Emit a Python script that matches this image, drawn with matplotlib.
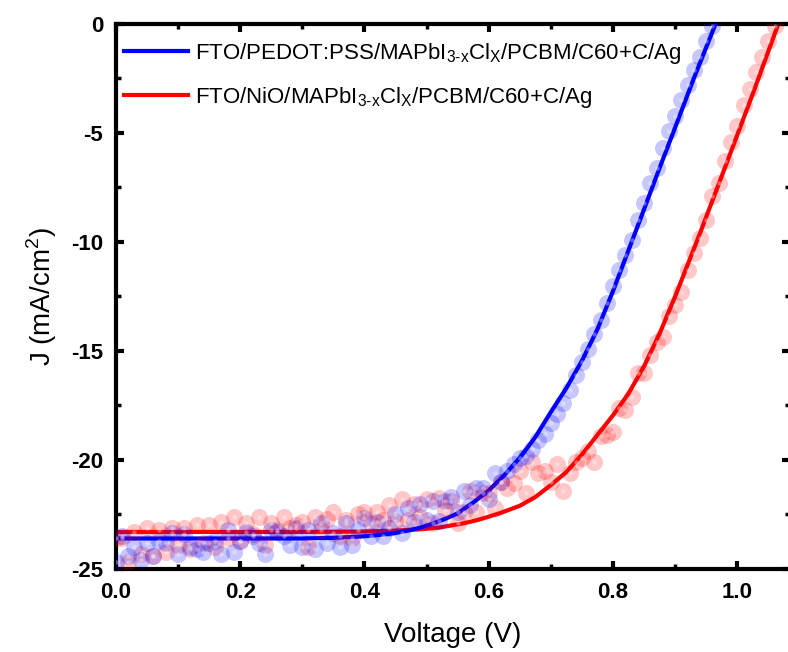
import numpy as np
import matplotlib
matplotlib.use('Agg')
import matplotlib.pyplot as plt

plt.rcParams['font.family'] = ['Liberation Sans', 'DejaVu Sans']
plt.rcParams['mathtext.fontset'] = 'custom'
plt.rcParams['mathtext.rm'] = 'Liberation Sans'
plt.rcParams['axes.unicode_minus'] = False

# measured J-V points (V in 0.01 V steps)
blue_v = np.round(np.arange(0, 0.965, 0.01), 2)
blue_j = [-24.7, -23.5, -24.4, -24.0, -24.6, -23.8, -24.4, -23.7, -23.8, -23.35,
          -24.3, -23.4, -24.0, -24.1, -24.2, -23.8, -23.7, -24.3, -23.2, -24.2,
          -23.7, -23.3, -23.5, -23.8, -24.3, -23.2, -23.3, -23.5, -23.9, -23.1,
          -24.0, -23.2, -24.1, -22.9, -23.8, -23.35, -24.0, -22.9, -23.9, -23.2,
          -22.65, -23.5, -22.85, -23.5, -23.1, -22.5, -23.35, -22.2, -22.85, -22.0,
          -22.75, -21.9, -22.8, -21.9, -21.7, -22.4, -21.4, -22.05, -21.3, -21.3,
          -21.8, -20.6, -21.0, -20.5, -20.2, -19.9, -19.8, -19.5, -19.1, -18.8,
          -18.3, -17.9, -17.4, -16.8, -16.1, -15.5, -14.9, -14.2, -13.6, -12.8,
          -12.0, -11.3, -10.6, -9.9, -9.0, -8.2, -7.3, -6.6, -5.7, -4.9,
          -4.2, -3.5, -2.8, -2.1, -1.5, -0.8, -0.1]

red_v = np.round(np.arange(0, 1.065, 0.01), 2)
red_j = [-23.6, -23.6, -24.7, -23.3, -24.3, -23.1, -24.4, -23.2, -24.2, -23.1,
         -23.9, -23.1, -24.1, -23.0, -23.8, -23.0, -24.0, -22.85, -23.6, -22.6,
         -23.7, -22.9, -23.4, -22.6, -23.9, -22.9, -23.2, -22.6, -23.1, -23.0,
         -22.85, -24.0, -22.6, -23.2, -22.7, -22.4, -23.5, -22.75, -23.6, -22.5,
         -22.4, -22.9, -22.4, -22.75, -22.05, -22.8, -21.8, -22.75, -22.0, -22.6,
         -21.8, -22.9, -21.75, -22.3, -21.9, -22.9, -22.4, -21.4, -22.4, -21.5,
         -21.5, -22.2, -21.0, -21.3, -21.05, -20.5, -21.5, -20.1, -20.6, -20.5,
         -21.0, -20.2, -21.4, -20.6, -20.1, -19.9, -19.6, -20.1, -18.9, -18.85,
         -18.7, -17.6, -17.7, -17.1, -16.0, -16.0, -15.2, -14.6, -14.35, -13.4,
         -12.9, -12.3, -11.3, -10.5, -9.8, -9.0, -7.9, -7.3, -6.3, -5.4,
         -4.7, -3.7, -3.0, -2.2, -1.5, -0.8, -0.1]

# fitted curves
blue_fit_v = [0.00, 0.10, 0.20, 0.30, 0.35, 0.40, 0.43, 0.45, 0.47, 0.49, 0.51, 0.53,
              0.55, 0.575, 0.60, 0.625, 0.65, 0.675, 0.70, 0.725, 0.75, 0.775, 0.80,
              0.82, 0.846, 0.875, 0.90, 0.93, 0.965]
blue_fit_j = [-23.6, -23.6, -23.6, -23.6, -23.57, -23.5, -23.42, -23.35, -23.24, -23.1,
              -22.92, -22.7, -22.45, -21.95, -21.4, -20.7, -19.9, -18.95, -17.8, -16.7,
              -15.45, -14.0, -12.25, -10.75, -8.8, -6.6, -4.75, -2.5, 0.0]

red_fit_v = [0.00, 0.10, 0.20, 0.30, 0.40, 0.45, 0.49, 0.52, 0.56, 0.58, 0.60, 0.62,
             0.65, 0.675, 0.70, 0.725, 0.75, 0.775, 0.80, 0.825, 0.85, 0.875, 0.90,
             0.94, 0.98, 1.025, 1.066]
red_fit_j = [-23.3, -23.3, -23.3, -23.3, -23.28, -23.24, -23.18, -23.1, -22.9, -22.77,
             -22.6, -22.42, -22.1, -21.7, -21.15, -20.55, -19.75, -18.85, -17.95, -16.95,
             -15.7, -14.2, -12.5, -9.6, -6.6, -3.2, 0.0]

labels = [r'FTO/PEDOT:PSS/MAPbI$_\text{3-x}$Cl$_\text{X}$/PCBM/C60+C/Ag',
          r'FTO/NiO/MAPbI$_\text{3-x}$Cl$_\text{X}$/PCBM/C60+C/Ag']

fig = plt.figure(figsize=(7.88, 6.52), dpi=100)
ax = fig.add_axes([0.147, 0.1273, 0.8557, 0.836])

ax.plot(red_fit_v, red_fit_j, color='#ff0000', lw=3, label=labels[1], zorder=2)
ax.plot(blue_fit_v, blue_fit_j, color='#0000ff', lw=3, label=labels[0], zorder=3)

ax.scatter(red_v, red_j, s=150, color='#ff0000', alpha=0.22, lw=0, zorder=4)
ax.scatter(blue_v, blue_j, s=150, color='#0000ff', alpha=0.22, lw=0, zorder=5)
ax.scatter(red_v, red_j, s=10, color='white', alpha=0.35, lw=0, zorder=6)
ax.scatter(blue_v, blue_j, s=10, color='white', alpha=0.35, lw=0, zorder=6)

ax.set_xlim(0, 1.085)
ax.set_ylim(-25, 0)
ax.set_xticks([0.0, 0.2, 0.4, 0.6, 0.8, 1.0])
ax.set_xticks(np.arange(0.1, 1.1, 0.2), minor=True)
ax.set_yticks([-25, -20, -15, -10, -5, 0])
ax.set_yticks([-22.5, -17.5, -12.5, -7.5, -2.5], minor=True)
ax.set_xticklabels(['0.0', '0.2', '0.4', '0.6', '0.8', '1.0'])

for s in ax.spines.values():
    s.set_linewidth(3)
ax.tick_params(which='both', direction='in', top=True, right=True)
ax.tick_params(which='major', length=6, width=3, labelsize=16, pad=9)
ax.tick_params(which='minor', length=3.5, width=2.5)
for t in ax.get_xticklabels() + ax.get_yticklabels():
    t.set_fontweight('bold')

ax.set_xlabel('Voltage (V)', fontsize=20, labelpad=14)
ax.set_ylabel(r'J (mA/cm$^\text{2}$)', fontsize=20, labelpad=9)

handles, labs = ax.get_legend_handles_labels()
ax.legend(handles[::-1], labs[::-1], loc='upper left', bbox_to_anchor=(-0.008, 0.993),
          frameon=False, fontsize=16, handlelength=2.9, handletextpad=0.3,
          labelspacing=0.84, borderaxespad=0.2)

fig.savefig('out.png', dpi=100)
